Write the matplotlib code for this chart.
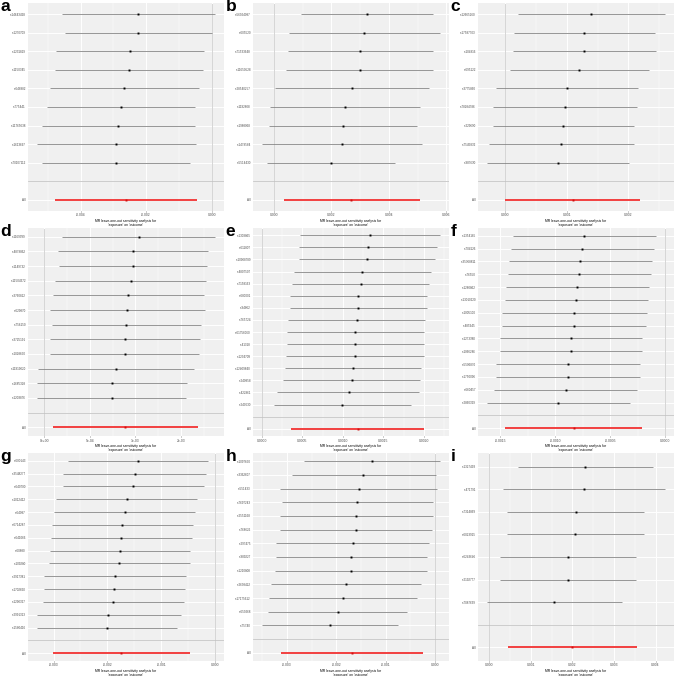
import numpy as np
import matplotlib
matplotlib.use('Agg')
import matplotlib.pyplot as plt

plt.rcParams['font.family'] = ['Liberation Sans', 'DejaVu Sans']

# ---- data: leave-one-out estimates (top row first), plus the "All" estimate ----
a_snp = ['rs14643428', 'rs1270709', 'rs1231819', 'rs1150345', 'rs648882',
         'rs775441', 'rs11765638', 'rs1613697', 'rs70107112']
a_b = [-0.002234, -0.002234, -0.002487, -0.002518, -0.00266, -0.002772, -0.002843, -0.002914, -0.002934]
a_lo = [-0.004558, -0.004487, -0.004741, -0.004771, -0.004924, -0.005025, -0.005167, -0.00533, -0.005178]
a_hi = [0.000102, 0.00002, -0.000223, -0.000254, -0.000376, -0.000497, -0.000518, -0.000467, -0.00067]
a_all = [-0.002619, -0.004771, -0.000457]
a_ticks = [-0.004, -0.002, 0.0]
a_labels = ['-0.004', '-0.002', '0.000']

b_snp = ['rs56924087', 'rs605520', 'rs71533648', 'rs11650528', 'rs28540257',
         'rs1192808', 'rs1988068', 'rs1479584', 'rs5514430']
b_b = [0.003241, 0.003149, 0.003011, 0.002989, 0.002724, 0.002471, 0.002402, 0.002368, 0.002]
b_lo = [0.000931, 0.000529, 0.000483, 0.000437, 0.000046, -0.000138, -0.000184, -0.000414, -0.000241]
b_hi = [0.005552, 0.005782, 0.005552, 0.005552, 0.005391, 0.005092, 0.004977, 0.005161, 0.004218]
b_all = [0.002701, 0.000345, 0.00508]
b_ticks = [0.0, 0.002, 0.004, 0.006]
b_labels = ['0.000', '0.002', '0.004', '0.006']

c_snp = ['rs12665260', 'rs17587703', 'rs104816', 'rs695122', 'rs3775860',
         'rs78284786', 'rs229690', 'rs7545832', 'rs987630']
c_b = [0.0014, 0.001287, 0.001282, 0.001206, 0.001008, 0.00097, 0.000944, 0.000912, 0.000858]
c_lo = [0.000209, 0.000145, 0.000129, 0.000075, -0.00015, -0.000198, -0.000204, -0.000268, -0.0003]
c_hi = [0.0026, 0.00244, 0.002445, 0.002343, 0.002166, 0.002145, 0.002091, 0.002102, 0.002011]
c_all = [0.001099, 0.0, 0.002193]
c_ticks = [0.0, 0.001, 0.002]
c_labels = ['0.000', '0.001', '0.002']

d_snp = ['rs1169399', 'rs4879862', 'rs1149732', 'rs11504372', 'rs3760812', 'rs629870',
         'rs756150', 'rs3725191', 'rs1028650', 'rs11919020', 'rs1685328', 'rs1203876']
d_b = [0.001033, 0.000978, 0.000971, 0.000949, 0.000923, 0.000912,
       0.000898, 0.000883, 0.00088, 0.000785, 0.000741, 0.000741]
d_lo = [0.000197, 0.000153, 0.000157, 0.00012, 0.000095, 0.000062,
        0.00008, 0.000062, 0.000062, -0.000069, -0.00008, -0.000077]
d_hi = [0.001872, 0.001799, 0.001785, 0.001774, 0.001748, 0.001763,
        0.001719, 0.001708, 0.001697, 0.001639, 0.001566, 0.001555]
d_all = [0.000887, 0.000099, 0.001682]
d_ticks = [0.0, 0.0005, 0.001, 0.0015]
d_labels = ['0e+00', '5e-04', '1e-03', '2e-03']

e_snp = ['rs1308865', 'rs611807', 'rs10908789', 'rs4807507', 'rs7158163', 'rs680001',
         'rs94862', 'rs765724', 'rs61756060', 'rs41318', 'rs1234709', 'rs12409840',
         'rs240858', 'rs422861', 'rs240630']
e_b = [0.001333, 0.001309, 0.001297, 0.00124, 0.00122, 0.001191, 0.001191, 0.001175,
       0.001154, 0.00115, 0.001146, 0.001122, 0.00111, 0.001069, 0.000992]
e_lo = [0.000472, 0.000459, 0.000459, 0.000398, 0.000374, 0.00035, 0.000346, 0.000325,
        0.000313, 0.000305, 0.000301, 0.00028, 0.000264, 0.000183, 0.000146]
e_hi = [0.002199, 0.002159, 0.002138, 0.002089, 0.002065, 0.002033, 0.002033, 0.002016,
        0.001996, 0.001996, 0.001996, 0.001963, 0.001955, 0.001943, 0.001837]
e_all = [0.001183, 0.000362, 0.002]
e_ticks = [0.0, 0.0005, 0.001, 0.0015, 0.002]
e_labels = ['0.0000', '0.0005', '0.0010', '0.0015', '0.0020']

f_snp = ['rs1354185', 'rs704126', 'rs35368811', 'rs76550', 'rs1280862', 'rs13010220',
         'rs1005100', 'rs485945', 'rs1273380', 'rs1066286', 'rs5506870', 'rs1750096',
         'rs660457', 'rs2860329']
f_b = [-0.000737, -0.000751, -0.000772, -0.000781, -0.000799, -0.000808, -0.000826,
       -0.000826, -0.000856, -0.000859, -0.00088, -0.00088, -0.000904, -0.00097]
f_lo = [-0.001383, -0.001398, -0.001422, -0.001425, -0.001449, -0.001458, -0.001485,
        -0.001479, -0.001503, -0.001503, -0.001533, -0.001533, -0.001554, -0.00162]
f_hi = [-0.000084, -0.000099, -0.00012, -0.000132, -0.000147, -0.000153, -0.000162,
        -0.000171, -0.000207, -0.00021, -0.000225, -0.000225, -0.000251, -0.000317]
f_all = [-0.000832, -0.001458, -0.000207]
f_ticks = [-0.0015, -0.001, -0.0005, 0.0]
f_labels = ['-0.0015', '-0.0010', '-0.0005', '0.0000']

g_snp = ['rs600143', 'rs3548277', 'rs640700', 'rs1012412', 'rs64087', 'rs6714287',
         'rs641066', 'rs60880', 'rs109280', 'rs2917381', 'rs1702660', 'rs1290327',
         'rs2991313', 'rs1580416']
g_b = [-0.001436, -0.001491, -0.001516, -0.001645, -0.001682, -0.001725, -0.001744,
       -0.001768, -0.001787, -0.001861, -0.001873, -0.001892, -0.001984, -0.002009]
g_lo = [-0.002736, -0.002816, -0.002822, -0.002957, -0.002994, -0.003031, -0.003056,
        -0.003068, -0.003081, -0.003179, -0.003173, -0.003192, -0.003309, -0.003303]
g_hi = [-0.000129, -0.00016, -0.000197, -0.000327, -0.00037, -0.000419, -0.000431,
        -0.000462, -0.000474, -0.000542, -0.000567, -0.000585, -0.000641, -0.000715]
g_all = [-0.001744, -0.003001, -0.000474]
g_ticks = [-0.003, -0.002, -0.001, 0.0]
g_labels = ['-0.003', '-0.002', '-0.001', '0.000']

h_snp = ['rs1097650', 'rs3362607', 'rs551433', 'rs7697243', 'rs2551168', 'rs768626',
         'rs297475', 'rs989227', 'rs1210808', 'rs2638422', 'rs17175612', 'rs659268', 'rs75740']
h_b = [-0.001286, -0.001453, -0.001547, -0.001581, -0.001601, -0.001608, -0.001674,
       -0.001695, -0.001701, -0.001808, -0.001869, -0.001976, -0.00213]
h_lo = [-0.002666, -0.0029, -0.003148, -0.003108, -0.003148, -0.003148, -0.003222,
        -0.003228, -0.003242, -0.003329, -0.003369, -0.003396, -0.00351]
h_hi = [0.0001, 0.000013, 0.000047, -0.000047, -0.000047, -0.000067, -0.000134,
        -0.000161, -0.000167, -0.000281, -0.000368, -0.000563, -0.000757]
h_all = [-0.001688, -0.003114, -0.000255]
h_ticks = [-0.003, -0.002, -0.001, 0.0]
h_labels = ['-0.003', '-0.002', '-0.001', '0.000']

i_snp = ['rs1327493', 'rs471791', 'rs7314869', 'rs6023915', 'rs6243646', 'rs2192777', 'rs7087639']
i_b = [0.00231, 0.002278, 0.002079, 0.002063, 0.001897, 0.001897, 0.001563]
i_lo = [0.00069, 0.000325, 0.000429, 0.000421, 0.000262, 0.000262, -0.000056]
i_hi = [0.003944, 0.00423, 0.00373, 0.003722, 0.00354, 0.00354, 0.00319]
i_all = [0.002, 0.00046, 0.003556]
i_ticks = [0.0, 0.001, 0.002, 0.003, 0.004]
i_labels = ['0.000', '0.001', '0.002', '0.003', '0.004']

panels = [
    ('a', a_snp, a_b, a_lo, a_hi, a_all, a_ticks, a_labels),
    ('b', b_snp, b_b, b_lo, b_hi, b_all, b_ticks, b_labels),
    ('c', c_snp, c_b, c_lo, c_hi, c_all, c_ticks, c_labels),
    ('d', d_snp, d_b, d_lo, d_hi, d_all, d_ticks, d_labels),
    ('e', e_snp, e_b, e_lo, e_hi, e_all, e_ticks, e_labels),
    ('f', f_snp, f_b, f_lo, f_hi, f_all, f_ticks, f_labels),
    ('g', g_snp, g_b, g_lo, g_hi, g_all, g_ticks, g_labels),
    ('h', h_snp, h_b, h_lo, h_hi, h_all, h_ticks, h_labels),
    ('i', i_snp, i_b, i_lo, i_hi, i_all, i_ticks, i_labels),
]

W = 676.0
fig = plt.figure(figsize=(6.76, 6.76), dpi=100)
fig.patch.set_facecolor('white')

xtitle = "MR leave-one-out sensitivity analysis for\n'exposure' on 'outcome'"

for k, (letter, snp, b, lo, hi, allv, ticks, labels) in enumerate(panels):
    r, c = divmod(k, 3)
    left = c * 225 + 28
    top = r * 225 + 3
    ax = fig.add_axes([left / W, 1 - (top + 208) / W, 196 / W, 208 / W])
    ax.set_facecolor('#F0F0F0')
    for s in ax.spines.values():
        s.set_visible(False)

    n = len(snp)
    ypos = np.arange(n + 2, 2, -1)

    # x range like ggplot: data + vline at 0, expanded 5%
    xmin = min(min(lo), allv[1], 0.0)
    xmax = max(max(hi), allv[2], 0.0)
    pad = 0.05 * (xmax - xmin)
    ax.set_xlim(xmin - pad, xmax + pad)
    ax.set_ylim(0.4, n + 2.6)

    # grid
    step = ticks[1] - ticks[0]
    minors = np.arange(ticks[0] - step / 2, ticks[-1] + step, step)
    for m in minors:
        ax.axvline(m, color='white', lw=0.35, zorder=0)
    for t in ticks:
        ax.axvline(t, color='white', lw=0.7, zorder=0)
    for yy in list(ypos) + [1, 2]:
        ax.axhline(yy, color='white', lw=0.7, zorder=0)

    ax.axvline(0, color='#A0A0A0', lw=0.6, ls=(0, (1.2, 1.2)), zorder=1)
    ax.axhline(2, color='#C4C4C4', lw=0.6, zorder=1)

    ax.hlines(ypos, lo, hi, color='#858585', lw=0.6, zorder=2)
    ax.plot(b, ypos, 's', color='black', ms=1.4, mew=0, zorder=3)
    ax.hlines([1], [allv[1]], [allv[2]], color='#F24040', lw=1.4, zorder=2)
    ax.plot([allv[0]], [1], 's', color='#D01010', ms=1.4, mew=0, zorder=3)

    ax.set_yticks(list(ypos) + [2, 1])
    ax.set_yticklabels(list(snp) + ['', 'All'], fontsize=2.2, color='#4D4D4D')
    ax.tick_params(axis='y', length=0, pad=1.6)
    ax.set_xticks(ticks)
    ax.set_xticklabels(labels, fontsize=2.4, color='#4D4D4D')
    ax.tick_params(axis='x', length=1.0, width=0.4, color='#4D4D4D', pad=0.8)
    ax.set_xlabel(xtitle, fontsize=2.4, labelpad=1.2, linespacing=1.0)

    fig.text((c * 225 + 0.5) / W, 1 - (r * 225 - 1) / W, letter, fontsize=12.5,
             fontweight='bold', va='top', ha='left')

fig.savefig('out.png', dpi=100, facecolor='white')
